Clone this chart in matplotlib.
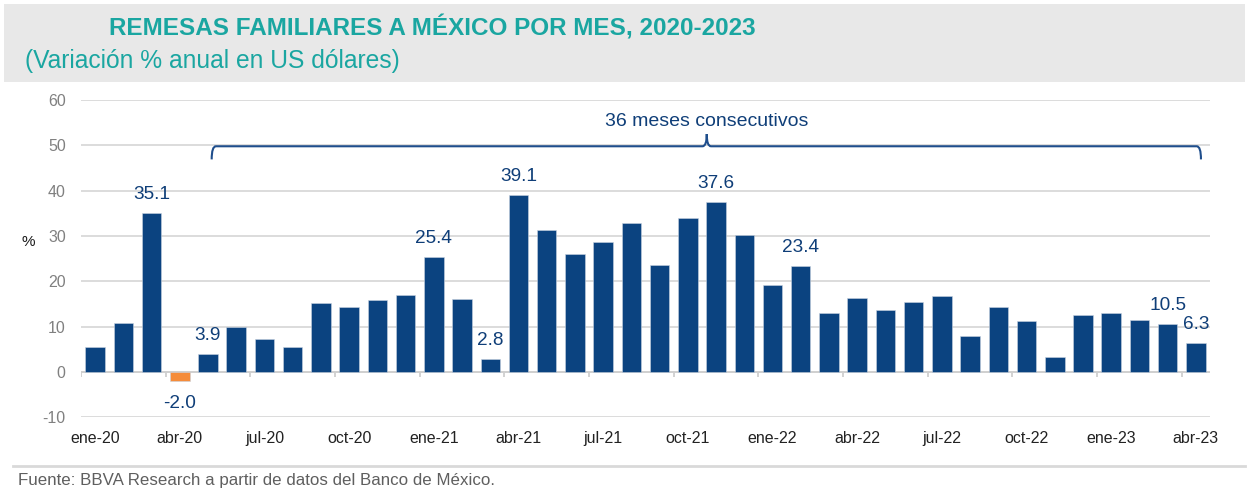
import matplotlib.pyplot as plt
import numpy as np
from matplotlib.path import Path
from matplotlib.patches import PathPatch, Rectangle

plt.rcParams['font.family'] = ['Liberation Sans', 'DejaVu Sans']
plt.rcParams['axes.unicode_minus'] = False

# Monthly remittances, % annual change in USD (ene-20 .. abr-23)
months = ['ene', 'feb', 'mar', 'abr', 'may', 'jun', 'jul', 'ago', 'sep', 'oct', 'nov', 'dic']
years = ['20', '21', '22', '23']
periods = [f'{m}-{y}' for y in years for m in months][:40]
values = [5.5, 10.7, 35.1, -2.0, 3.9, 9.9, 7.2, 5.4, 15.2, 14.2, 15.8, 17.0,
          25.4, 16.1, 2.8, 39.1, 31.4, 26.0, 28.7, 32.9, 23.6, 34.0, 37.6, 30.2,
          19.2, 23.4, 13.0, 16.3, 13.6, 15.4, 16.7, 7.9, 14.2, 11.2, 3.3, 12.6,
          12.9, 11.4, 10.5, 6.3]
labelled = ['mar-20', 'abr-20', 'may-20', 'ene-21', 'mar-21', 'abr-21',
            'nov-21', 'feb-22', 'mar-23', 'abr-23']
bracket_text = '36 meses consecutivos'

navy = '#0b4380'
orange = '#f58c3a'
lab_col = '#0f3e78'
teal = '#1aa6a1'

fig = plt.figure(figsize=(12.5, 4.93), dpi=100)
fig.patches.append(Rectangle((0.003, 0.834), 0.993, 0.158, transform=fig.transFigure,
                             facecolor='#e8e8e8', edgecolor='none', zorder=0))
fig.text(0.0872, 0.929, 'REMESAS FAMILIARES A MÉXICO POR MES, 2020-2023',
         color=teal, fontsize=17.5, fontweight='bold', va='baseline')
fig.text(0.02, 0.862, '(Variación % anual en US dólares)', color=teal,
         fontsize=17.7, va='baseline')

ax = fig.add_axes([0.0648, 0.154, 0.9032, 0.643])
x = np.arange(len(values))
vals = np.array(values)
colors = [orange if v < 0 else navy for v in vals]
ax.bar(x, vals, width=0.69, color=colors, edgecolor='#c9d3e0', linewidth=0.4, zorder=3)

for i, (p, v) in enumerate(zip(periods, vals)):
    if p in labelled:
        if v < 0:
            ax.annotate(f'{v:.1f}', (i, v), xytext=(0, -10), textcoords='offset points',
                        ha='center', va='top', color=lab_col, fontsize=13.7)
        else:
            ax.annotate(f'{v:.1f}', (i, v), xytext=(0, 10), textcoords='offset points',
                        ha='center', va='baseline', color=lab_col, fontsize=13.7)

ax.set_xlim(-0.5, len(values) - 0.5)
ax.set_ylim(-10, 60)
ax.set_yticks(np.arange(-10, 61, 10))
ax.grid(axis='y', color='#d9d9d9', linewidth=1.3, zorder=0)
ax.axhline(0, color='#cfcfcf', linewidth=1.3, zorder=2)
ax.vlines(np.arange(-0.5, len(values) - 1, 3), -1.1, 0, color='#cfcfcf', linewidth=1.3, zorder=2)
for s in ax.spines.values():
    s.set_visible(False)
ax.set_xticks(x[::3])
ax.set_xticklabels(periods[::3])
ax.tick_params(axis='x', length=0, pad=10, labelsize=11.5, labelcolor='#222222')
ax.tick_params(axis='y', length=0, pad=11, labelsize=11.5, labelcolor='#808080')

# bracket over the consecutive positive months
x0, x1, xm = 4.13, 39.18, 21.67
yb, yl, yp, d = 49.8, 46.9, 52.5, 0.15
verts = [(x0, yl), (x0, yb), (x0 + d, yb), (xm - d, yb), (xm, yb), (xm, yp),
         (xm, yb), (xm + d, yb), (x1 - d, yb), (x1, yb), (x1, yl)]
codes = [Path.MOVETO, Path.CURVE3, Path.CURVE3, Path.LINETO, Path.CURVE3, Path.CURVE3,
         Path.CURVE3, Path.CURVE3, Path.LINETO, Path.CURVE3, Path.CURVE3]
ax.add_patch(PathPatch(Path(verts, codes), facecolor='none', edgecolor='#1f4e8c',
                       linewidth=1.5, zorder=4, clip_on=False))
ax.text(xm, 54.3, bracket_text, ha='center', va='baseline', color=lab_col, fontsize=14)

fig.text(0.0224, 0.509, '%', fontsize=11, color='#1a1a1a', ha='center', va='center')
fig.lines.append(plt.Line2D([0.0104, 0.996], [0.054, 0.054], transform=fig.transFigure,
                            color='#d9d9d9', linewidth=2))
fig.text(0.0144, 0.017, 'Fuente: BBVA Research a partir de datos del Banco de México.',
         fontsize=12.2, color='#5f5f5f', va='baseline')

fig.savefig('out.png', dpi=100)
